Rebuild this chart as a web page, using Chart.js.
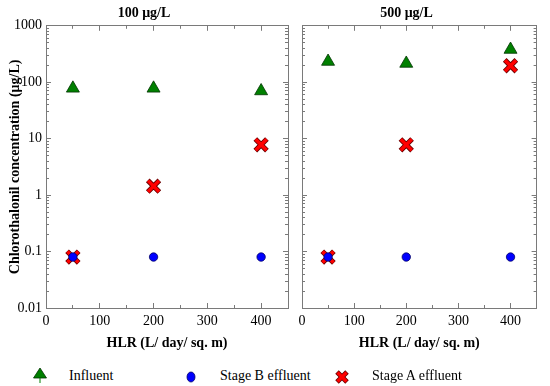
<!DOCTYPE html>
<html>
<head>
<meta charset="utf-8">
<script src="https://cdn.jsdelivr.net/npm/chart.js@4/dist/chart.umd.min.js"></script>
<style>
  body { margin: 0; background: #fff; }
  #wrap { position: relative; width: 550px; height: 386px; overflow: hidden; }
  canvas { position: absolute; top: 0; }
  #chartL { left: 0; }
  #chartR { left: 268px; }
  .leg { position: absolute; font: 14px "Liberation Serif", serif; color: #000; line-height: 16px; white-space: nowrap; }
  .legIcon { position: absolute; }
</style>
</head>
<body>
<div id="wrap">
  <canvas id="chartL" width="310" height="355"></canvas>
  <canvas id="chartR" width="282" height="355"></canvas>
  <svg class="legIcon" style="left:32px;top:367px" width="16" height="18">
    <polygon points="8,1 14.5,11 1.5,11" fill="#008000" stroke="#003300" stroke-width="0.8"/>
    <line x1="8" y1="11" x2="8" y2="16" stroke="#008000" stroke-width="1"/>
  </svg>
  <span class="leg" style="left:69px;top:368px">Influent</span>
  <svg class="legIcon" style="left:183px;top:367px" width="16" height="18">
    <ellipse cx="8" cy="10" rx="4" ry="5" fill="#0000ff" stroke="#000066" stroke-width="0.8"/>
  </svg>
  <span class="leg" style="left:220px;top:368px">Stage B effluent</span>
  <svg class="legIcon" style="left:334px;top:368px" width="16" height="18">
    <line x1="3" y1="4" x2="13" y2="14" stroke="#660000" stroke-width="5"/>
    <line x1="13" y1="4" x2="3" y2="14" stroke="#660000" stroke-width="5"/>
    <line x1="3.5" y1="4.5" x2="12.5" y2="13.5" stroke="#ff0000" stroke-width="3.2"/>
    <line x1="12.5" y1="4.5" x2="3.5" y2="13.5" stroke="#ff0000" stroke-width="3.2"/>
  </svg>
  <span class="leg" style="left:372px;top:368px">Stage A effluent</span>
</div>
<script>
// 데이터 (HLR 별 농도, μg/L)
const hlr = [50, 200, 400];

const influent100 = [78, 78, 70];
const stageB100 = [0.08, 0.08, 0.08];
const stageA100 = [0.08, 1.44, 7.8];

const influent500 = [233, 215, 380];
const stageB500 = [0.08, 0.08, 0.08];
const stageA500 = [0.08, 7.8, 196];

const panelTitles = ['100 μg/L', '500 μg/L'];
const xTitle = 'HLR (L/ day/ sq. m)';
const yTitle = 'Chlorothalonil concentration (μg/L)';

const xMajorTicks = [0, 100, 200, 300, 400];
const xMinorTicks = [50, 150, 250, 350, 450];
const yMajorTicks = [0.01, 0.1, 1, 10, 100, 1000];
const yLabels = ['0.01', '0.1', '1', '10', '100', '1000'];

// log 보조 눈금 (2~9)
const yMinorTicks = [];
yMajorTicks.slice(0, -1).forEach(d => {
    for (let k = 2; k <= 9; k++) yMinorTicks.push(d * k);
});

Chart.defaults.font.family = '"Liberation Serif", serif';
Chart.defaults.color = '#000';

const axisColor = '#7a7a7a';
const tickFont = { size: 14 };
const boldFont = { size: 14, weight: 'bold' };

function setTicks(list) {
    return scale => { scale.ticks = list.map(v => ({ value: v })); };
}

function edgeAxis(type, position, list, len, weight, showBorder) {
    const horizontal = position === 'top' || position === 'bottom';
    const axis = {
        type: type,
        position: position,
        weight: weight,
        afterBuildTicks: setTicks(list),
        ticks: { display: false, autoSkip: false },
        grid: { drawOnChartArea: false, tickLength: len, tickColor: axisColor, tickWidth: 1 },
        border: { display: showBorder, color: axisColor, width: 1 },
        afterFit: scale => { if (horizontal) scale.height = 0; else scale.width = 0; }
    };
    if (horizontal) { axis.min = 0; axis.max = 450; } else { axis.min = 0.01; axis.max = 1000; }
    return axis;
}

function buildScales(withYLabels, yWidth) {
    return {
        x: {
            type: 'linear', position: 'bottom', weight: 1, min: 0, max: 450,
            afterBuildTicks: setTicks(xMajorTicks),
            ticks: { autoSkip: false, maxRotation: 0, padding: 10, font: tickFont, color: '#000' },
            grid: { drawOnChartArea: false, tickLength: -5, tickColor: axisColor },
            border: { color: axisColor },
            title: { display: true, text: xTitle, font: boldFont, color: '#000', padding: { top: 3, bottom: 3 } },
            afterFit: scale => { scale.height = 47; }
        },
        xMinor: edgeAxis('linear', 'bottom', xMinorTicks, -3, 0, false),
        xTop: edgeAxis('linear', 'top', xMajorTicks, -5, 1, true),
        xTopMinor: edgeAxis('linear', 'top', xMinorTicks, -3, 0, false),
        y: {
            type: 'logarithmic', position: 'left', weight: 1, min: 0.01, max: 1000,
            afterBuildTicks: setTicks(yMajorTicks),
            ticks: {
                display: withYLabels, autoSkip: false, padding: 9, font: tickFont, color: '#000',
                callback: (value, i) => yLabels[i]
            },
            grid: { drawOnChartArea: false, tickLength: -5, tickColor: axisColor },
            border: { color: axisColor },
            title: { display: withYLabels, text: yTitle, font: boldFont, color: '#000', padding: { top: 7, bottom: 0 } },
            afterFit: scale => { scale.width = yWidth; }
        },
        yMinor: edgeAxis('logarithmic', 'left', yMinorTicks, -3, 0, false),
        yRight: edgeAxis('logarithmic', 'right', yMajorTicks, -5, 1, true),
        yRightMinor: edgeAxis('logarithmic', 'right', yMinorTicks, -3, 0, false)
    };
}

function toPoints(ys) {
    return hlr.map((x, i) => ({ x: x, y: ys[i] }));
}

function buildDatasets(influent, stageB, stageA) {
    // 앞쪽 데이터셋이 위에 그려짐
    return [
        {
            label: 'Stage B effluent', data: toPoints(stageB),
            pointStyle: 'circle', pointRadius: 4.2,
            backgroundColor: '#0000ff', borderColor: '#000066', borderWidth: 0.8
        },
        {
            label: 'Influent', data: toPoints(influent),
            pointStyle: 'triangle', pointRadius: 7.5,
            backgroundColor: '#008000', borderColor: '#003300', borderWidth: 0.8
        },
        {
            label: 'Stage A effluent', data: toPoints(stageA),
            pointStyle: 'crossRot', pointRadius: 7.8,
            backgroundColor: '#ff0000', borderColor: '#ff0000', borderWidth: 3.4
        },
        {
            label: 'Stage A outline', data: toPoints(stageA),
            pointStyle: 'crossRot', pointRadius: 8.2,
            backgroundColor: '#660000', borderColor: '#660000', borderWidth: 5.2
        }
    ];
}

function createPanel(canvasId, title, datasets, withYLabels, yWidth, padRight) {
    const ctx = document.getElementById(canvasId).getContext('2d');
    return new Chart(ctx, {
        type: 'scatter',
        data: { datasets: datasets },
        options: {
            responsive: false,
            animation: false,
            devicePixelRatio: 1,
            layout: { padding: { left: 0, right: padRight, top: 0, bottom: 0 } },
            plugins: {
                legend: { display: false },
                tooltip: { enabled: false },
                title: {
                    display: true, text: title, font: boldFont, color: '#000',
                    padding: { top: 5, bottom: 4 }
                }
            },
            scales: buildScales(withYLabels, yWidth)
        }
    });
}

createPanel('chartL', panelTitles[0], buildDatasets(influent100, stageB100, stageA100), true, 46, 22);
createPanel('chartR', panelTitles[1], buildDatasets(influent500, stageB500, stageA500), false, 34, 5);
</script>
</body>
</html>
